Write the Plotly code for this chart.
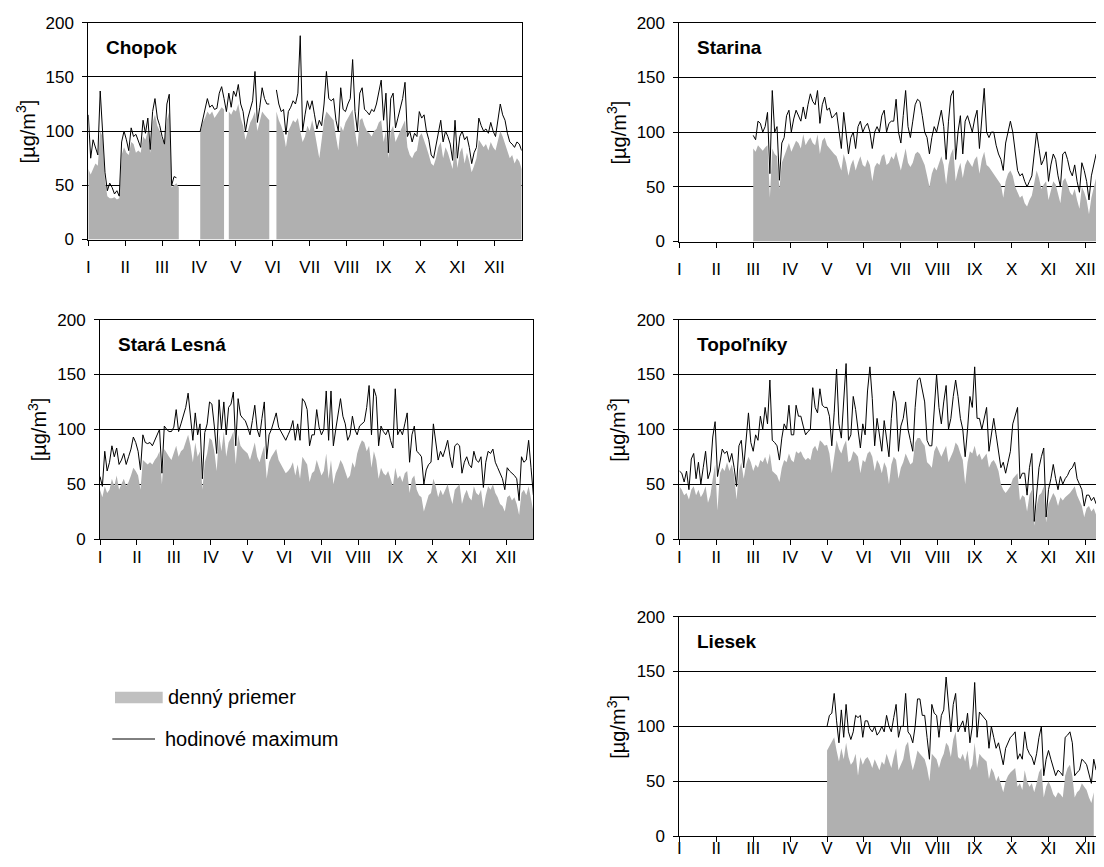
import plotly.graph_objects as go

N = None
DAYS = list(range(0, 365, 2))
MONTH_TICKS = [0, 31, 62, 93, 124, 155, 186, 217, 248, 279, 310, 341]
MONTH_LABELS = ["I", "II", "III", "IV", "V", "VI", "VII", "VIII", "IX", "X", "XI", "XII"]
Y_TICKS = [0, 50, 100, 150, 200]
STATIONS = ["Chopok", "Starina", "Stará Lesná", "Topoľníky", "Liesek"]
LEGEND_LABELS = ["denný priemer", "hodinové maximum"]
Y_TITLE = "[µg/m<sup>3</sup>]"

# Chopok
CH_AVG = [65, 60, 65, 70, 68, 100, 95, 55, 40, 38,
          38, 39, 37, 38, 78, 85, 80, 78, 90, 88,
          80, 82, 80, 95, 92, 100, 80, 108, 115, 105,
          100, 92, 90, 110, 118, 48, 50, 52, 48, N,
          N, N, N, N, N, N, N, 98, 108, 112,
          118, 115, 118, 112, 115, 118, 122, 120, N, 118,
          115, 120, 118, 125, 112, 105, 92, 100, 108, 112,
          118, 100, 110, 118, 115, 112, 110, N, N, 118,
          110, 105, 98, 85, 100, 105, 110, 108, 112, 100,
          90, 95, 105, 100, 110, 100, 88, 75, 92, 110,
          118, 115, 112, 110, 95, 82, 105, 100, 108, 112,
          115, 120, 100, 85, 110, 112, 105, 100, 98, 95,
          100, 102, 108, 110, 90, 100, 75, 100, 105, 90,
          95, 100, 105, 110, 85, 78, 75, 80, 82, 95,
          98, 92, 85, 78, 70, 68, 75, 85, 90, 75,
          85, 80, 72, 65, 90, 66, 80, 85, 70, 80,
          72, 62, 68, 75, 92, 88, 85, 88, 82, 90,
          85, 82, 92, 100, 95, 88, 80, 75, 78, 70,
          75, 72, 65]
CH_MAX = [115, 75, 92, 85, 78, 137, 100, 62, 45, 52,
          48, 42, 45, 40, 90, 100, 92, 82, 103, 95,
          97, 90, 85, 110, 98, 112, 83, 118, 130, 112,
          105, 95, 88, 125, 134, 50, 58, 57, N, N,
          N, N, N, N, N, N, N, 100, 110, 122,
          130, 122, 124, 120, 121, 135, 141, 130, 118, 135,
          122, 137, 132, 143, 125, 118, 100, 112, 120, 128,
          155, 108, 122, 140, 130, 125, 125, N, N, 138,
          125, 118, 120, 97, 118, 122, 128, 125, 135, 188,
          100, 115, 128, 120, 128, 115, 102, 110, 105, 125,
          155, 130, 128, 130, 110, 100, 140, 120, 118, 125,
          130, 166, 118, 100, 135, 140, 120, 118, 115, 120,
          118, 125, 135, 147, 110, 135, 80, 130, 135, 103,
          112, 120, 130, 145, 95, 100, 90, 98, 95, 118,
          112, 115, 100, 92, 78, 75, 87, 100, 110, 90,
          100, 95, 88, 73, 110, 75, 95, 100, 92, 95,
          85, 70, 80, 85, 112, 105, 100, 102, 98, 108,
          100, 95, 110, 125, 115, 110, 98, 90, 88, 85,
          90, 88, 82]

# Starina
ST_AVG = [N, N, N, N, N, N, N, N, N, N,
          N, N, N, N, N, N, N, N, N, N,
          N, N, N, N, N, N, N, N, N, N,
          N, 85, 82, 88, 85, 83, 86, 88, 40, 85,
          80, 78, 48, 72, 78, 85, 90, 82, 88, 92,
          90, 85, 98, 88, 92, 95, 90, 88, 98, 80,
          92, 95, 88, 85, 82, 80, 78, 72, 65, 80,
          72, 60, 70, 75, 65, 72, 78, 70, 68, 75,
          70, 55, 68, 72, 70, 78, 80, 70, 72, 78,
          75, 82, 72, 65, 75, 85, 72, 68, 72, 80,
          82, 80, 75, 70, 60, 50, 62, 68, 65, 72,
          78, 70, 52, 70, 80, 85, 55, 65, 72, 58,
          70, 75, 72, 68, 75, 78, 62, 75, 82, 70,
          68, 65, 62, 58, 55, 52, 40, 55, 62, 65,
          60, 50, 45, 40, 42, 35, 32, 38, 42, 55,
          65, 58, 48, 52, 55, 38, 48, 55, 52, 42,
          35, 55, 58, 52, 45, 42, 48, 38, 30, 50,
          45, 38, 25, 40, 50, 58, 55, 42, 45, 50,
          45, 40, 42]
ST_MAX = [N, N, N, N, N, N, N, N, N, N,
          N, N, N, N, N, N, N, N, N, N,
          N, N, N, N, N, N, N, N, N, N,
          N, 97, 93, 110, 108, 100, 105, 118, 62, 138,
          100, 105, 56, 90, 95, 115, 120, 100, 112, 120,
          115, 110, 123, 112, 125, 135, 128, 125, 138, 108,
          125, 132, 120, 122, 113, 115, 118, 100, 85, 118,
          100, 80, 95, 100, 85, 105, 110, 100, 105, 108,
          100, 85, 100, 105, 100, 115, 120, 100, 108, 110,
          110, 130, 100, 90, 115, 138, 105, 95, 110, 125,
          130, 128, 115, 100, 95, 80, 95, 105, 100, 110,
          120, 105, 75, 110, 133, 138, 75, 100, 115, 80,
          110, 115, 108, 100, 112, 120, 85, 115, 140, 100,
          95, 100, 100, 88, 80, 75, 65, 90, 100, 110,
          100, 80, 65, 60, 62, 55, 50, 55, 60, 80,
          100, 85, 70, 75, 82, 55, 70, 80, 75, 60,
          50, 80, 82, 75, 65, 60, 70, 55, 45, 72,
          65, 55, 38, 60, 70, 80, 80, 60, 65, 70,
          62, 58, 60]

# Stara Lesna
SL_AVG = [45, 38, 48, 42, 45, 55, 48, 58, 45, 50,
          55, 48, 52, 58, 65, 62, 58, 45, 72, 70,
          68, 70, 68, 72, 75, 80, 50, 82, 78, 75,
          72, 78, 85, 75, 80, 82, 88, 95, 85, 70,
          88, 75, 80, 45, 70, 78, 92, 90, 80, 62,
          95, 80, 98, 75, 88, 92, 98, 68, 95, 85,
          82, 80, 78, 72, 80, 88, 75, 70, 78, 85,
          55, 70, 75, 78, 82, 72, 68, 65, 60, 62,
          65, 70, 58, 68, 55, 75, 72, 68, 52, 60,
          62, 72, 65, 58, 62, 78, 55, 72, 50, 60,
          65, 72, 68, 62, 55, 58, 70, 65, 78, 85,
          90, 88, 80, 85, 65, 80, 72, 55, 65, 60,
          58, 62, 55, 48, 65, 55, 58, 52, 60, 62,
          42, 55, 58, 45, 40, 38, 25, 32, 40, 42,
          55, 48, 38, 45, 40, 45, 50, 40, 32, 45,
          48, 50, 32, 40, 45, 38, 35, 48, 42, 40,
          45, 28, 40, 48, 45, 50, 42, 38, 32, 30,
          25, 38, 40, 35, 38, 32, 22, 42, 45, 40,
          48, 35, 25]
SL_MAX = [57, 48, 80, 62, 70, 85, 75, 83, 68, 72,
          78, 68, 75, 82, 93, 88, 80, 63, 95, 88,
          87, 88, 85, 90, 95, 100, 60, 103, 100, 98,
          98, 102, 118, 98, 105, 112, 120, 133, 110, 90,
          115, 95, 105, 55, 97, 105, 125, 123, 103, 78,
          127, 100, 125, 95, 120, 123, 134, 85, 128, 113,
          110, 108, 102, 95, 108, 122, 100, 93, 110, 125,
          73, 95, 100, 108, 115, 102, 98, 95, 90, 95,
          100, 108, 90, 105, 90, 128, 125, 118, 85, 95,
          95, 118, 102, 95, 100, 135, 90, 135, 85, 100,
          115, 128, 112, 105, 90, 95, 112, 100, 95, 103,
          105, 107, 120, 140, 95, 137, 130, 85, 103, 98,
          95, 100, 90, 83, 137, 95, 100, 95, 105, 115,
          70, 95, 103, 80, 78, 75, 50, 63, 68, 70,
          105, 90, 72, 80, 75, 82, 90, 75, 65, 85,
          87, 85, 60, 70, 75, 68, 65, 80, 72, 70,
          75, 47, 70, 80, 78, 82, 70, 65, 60, 55,
          45, 65, 62, 60, 58, 55, 35, 75, 70, 72,
          90, 65, 40]

# Topolniky
TO_AVG = [48, 45, 40, 42, 36, 45, 48, 40, 45, 38,
          42, 48, 33, 40, 55, 68, 26, 60, 65, 62,
          70, 62, 68, 58, 36, 62, 70, 55, 68, 75,
          70, 62, 68, 65, 72, 70, 75, 68, 78, 62,
          60, 58, 52, 65, 72, 70, 78, 72, 70, 80,
          78, 80, 75, 72, 74, 72, 82, 85, 80, 90,
          88, 85, 86, 78, 60, 75, 90, 82, 78, 85,
          90, 70, 72, 80, 78, 75, 60, 72, 70, 78,
          80, 75, 62, 72, 68, 60, 70, 65, 50, 68,
          75, 72, 55, 65, 70, 78, 72, 68, 70, 88,
          92, 92, 88, 85, 70, 68, 65, 80, 85, 80,
          75, 80, 85, 70, 75, 80, 88, 85, 78, 72,
          50, 70, 80, 78, 85, 75, 78, 72, 75, 78,
          65, 70, 72, 68, 62, 50, 45, 42, 45, 48,
          55, 58, 60, 35, 40, 38, 25, 40, 45, 12,
          30, 40, 42, 48, 15, 32, 38, 42, 38, 30,
          38, 35, 38, 40, 42, 45, 48, 40, 35, 30,
          20, 28, 30, 25, 28, 22, 20, 18, 35, 32,
          30, 25, 22]
TO_MAX = [62, 60, 52, 62, 45, 73, 78, 55, 70, 50,
          65, 80, 55, 62, 93, 107, 57, 70, 82, 78,
          80, 70, 78, 65, 48, 85, 90, 65, 93, 115,
          88, 80, 95, 90, 112, 100, 120, 105, 145, 90,
          88, 85, 72, 92, 105, 100, 122, 95, 95, 122,
          112, 112, 103, 95, 98, 100, 138, 120, 115, 137,
          122, 120, 120, 112, 85, 115, 155, 105, 92, 124,
          160, 90, 95, 130, 118, 100, 83, 105, 95, 135,
          157, 128, 85, 110, 95, 80, 108, 90, 75, 110,
          135, 125, 80, 103, 110, 125, 100, 90, 80, 120,
          145, 147, 135, 125, 90, 85, 85, 120, 150, 120,
          105, 125, 140, 100, 110, 130, 145, 130, 110, 100,
          75, 100, 130, 120, 157, 110, 110, 100, 110, 120,
          80, 95, 110, 95, 80, 65, 70, 60, 70, 80,
          105, 112, 120, 55, 60, 60, 40, 65, 78, 16,
          45, 65, 75, 83, 20, 45, 55, 68, 55, 45,
          57, 50, 55, 58, 63, 65, 70, 55, 50, 45,
          30, 40, 40, 35, 38, 32, 30, 25, 65, 55,
          50, 40, 38]

# Liesek
LI_AVG = [N, N, N, N, N, N, N, N, N, N,
          N, N, N, N, N, N, N, N, N, N,
          N, N, N, N, N, N, N, N, N, N,
          N, N, N, N, N, N, N, N, N, N,
          N, N, N, N, N, N, N, N, N, N,
          N, N, N, N, N, N, N, N, N, N,
          N, N, 78, 82, 85, 90, 78, 68, 80, 70,
          85, 72, 65, 68, 75, 55, 72, 65, 70, 72,
          68, 62, 70, 65, 60, 68, 65, 75, 68, 62,
          72, 80, 60, 65, 70, 82, 86, 70, 60, 68,
          78, 75, 72, 70, 62, 50, 75, 72, 70, 62,
          70, 75, 85, 82, 72, 88, 95, 72, 70, 75,
          68, 78, 60, 65, 85, 62, 75, 72, 70, 68,
          52, 62, 58, 50, 55, 48, 40, 50, 55, 58,
          60, 62, 45, 48, 42, 60, 50, 45, 48, 40,
          48, 58, 62, 35, 45, 50, 45, 38, 35, 40,
          38, 35, 55, 62, 65, 55, 35, 40, 42, 48,
          45, 42, 35, 30, 40, N, N, N, N, N,
          N, N, N]
LI_MAX = [N, N, N, N, N, N, N, N, N, N,
          N, N, N, N, N, N, N, N, N, N,
          N, N, N, N, N, N, N, N, N, N,
          N, N, N, N, N, N, N, N, N, N,
          N, N, N, N, N, N, N, N, N, N,
          N, N, N, N, N, N, N, N, N, N,
          N, N, 100, 110, 112, 130, 105, 85, 115, 90,
          120, 95, 88, 95, 110, 108, 110, 90, 105, 105,
          98, 95, 100, 92, 95, 100, 95, 110, 100, 95,
          108, 120, 90, 100, 100, 130, 95, 92, 85, 100,
          125, 125, 110, 110, 90, 70, 120, 112, 110, 90,
          110, 115, 145, 120, 95, 120, 130, 95, 100, 105,
          95, 112, 85, 100, 140, 90, 113, 110, 108, 105,
          80, 100, 90, 80, 85, 75, 65, 80, 85, 90,
          92, 95, 70, 75, 70, 95, 80, 75, 72, 65,
          75, 90, 100, 55, 70, 78, 70, 62, 55, 60,
          58, 55, 90, 92, 95, 85, 55, 58, 60, 70,
          68, 65, 55, 48, 70, 60, N, N, N, N,
          N, N, N]

SERIES = [(CH_AVG, CH_MAX), (ST_AVG, ST_MAX), (SL_AVG, SL_MAX),
          (TO_AVG, TO_MAX), (LI_AVG, LI_MAX)]
for a, m in SERIES:
    assert len(a) == len(DAYS) and len(m) == len(DAYS), (len(a), len(m))


def runs(xs, ys):
    """Split a series at missing values into contiguous runs."""
    out, cx, cy = [], [], []
    for x, y in zip(xs, ys):
        if y is None:
            if cx:
                out.append((cx, cy))
            cx, cy = [], []
        else:
            cx.append(x)
            cy.append(y)
    if cx:
        out.append((cx, cy))
    return out


OFF = 8                      # page body margin
W, H = 1104 - 2 * OFF, 867 - 2 * OFF
FONT = "Liberation Sans, Arial, sans-serif"
GRAY = "#b0b0b0"
# panel boxes in page pixels: left, right, top, bottom, x-label standoff
BOXES = [
    (88.3, 521.7, 22.7, 239.5, 7),
    (679.4, 1112.8, 22.7, 241.5, 7),
    (100.0, 533.4, 319.7, 539.0, -2),
    (679.4, 1112.8, 319.7, 539.0, -2),
    (679.4, 1112.8, 616.7, 836.0, -8),
]


def px(v):
    return v / W


def py(v):
    return (H - v) / H


fig = go.Figure()
annotations = []
layout = {}
for i, ((avg, mx), name, (l, r, t, b, xs)) in enumerate(zip(SERIES, STATIONS, BOXES)):
    k = "" if i == 0 else str(i + 1)
    l0, r0, t0, b0 = l - OFF, r - OFF, t - OFF, b - OFF
    rr = min(r0, W)
    xend = 364 * (rr - l0) / (r0 - l0)
    for sx, sy in runs(DAYS, avg):
        fig.add_trace(go.Scatter(
            x=sx, y=sy, mode="lines", fill="tozeroy", fillcolor=GRAY,
            line=dict(width=0, color=GRAY), hoverinfo="skip",
            showlegend=False, xaxis="x" + k, yaxis="y" + k))
    fig.add_trace(go.Scatter(
        x=DAYS, y=mx, mode="lines", line=dict(width=1, color="black"),
        connectgaps=False, hoverinfo="skip", showlegend=False,
        xaxis="x" + k, yaxis="y" + k))
    layout["xaxis" + k] = dict(
        domain=[px(l0), px(rr)], range=[0, xend], anchor="y" + k,
        tickmode="array", tickvals=MONTH_TICKS, ticktext=MONTH_LABELS,
        ticks="outside", ticklen=5, tickcolor="black", tickwidth=1,
        showline=True, linecolor="black", linewidth=1, mirror=True,
        showgrid=False, zeroline=False, ticklabelstandoff=xs, automargin=False,
        tickfont=dict(size=17, color="black", family=FONT), fixedrange=True)
    layout["yaxis" + k] = dict(
        domain=[py(b0), py(t0)], range=[0, 200], anchor="x" + k,
        tickmode="array", tickvals=Y_TICKS,
        ticks="outside", ticklen=5, tickcolor="black", tickwidth=1,
        showline=True, linecolor="black", linewidth=1, mirror=(r0 <= W),
        showgrid=True, gridcolor="black", gridwidth=1, zeroline=False,
        ticklabelstandoff=5, automargin=False,
        tickfont=dict(size=17, color="black", family=FONT), fixedrange=True)
    annotations.append(dict(
        text="<b>" + name + "</b>", xref="paper", yref="paper",
        x=px(l0 + 15.5), y=py(t0 + 25), xanchor="left", yanchor="middle",
        showarrow=False, font=dict(size=19, color="black", family=FONT)))
    annotations.append(dict(
        text=Y_TITLE, xref="paper", yref="paper", textangle=-90,
        x=px(l0 - 63), y=py((t0 + b0) / 2), xanchor="center", yanchor="middle",
        showarrow=False, font=dict(size=20, color="black", family=FONT)))

annotations.append(dict(
    text=LEGEND_LABELS[0], xref="paper", yref="paper", x=px(166 - OFF), y=py(697 - OFF),
    xanchor="left", yanchor="middle", showarrow=False,
    font=dict(size=20, color="black", family=FONT)))
annotations.append(dict(
    text=LEGEND_LABELS[1], xref="paper", yref="paper", x=px(163 - OFF), y=py(739 - OFF),
    xanchor="left", yanchor="middle", showarrow=False,
    font=dict(size=20, color="black", family=FONT)))
shapes = [
    dict(type="rect", xref="paper", yref="paper", x0=px(115 - OFF), x1=px(162.7 - OFF),
         y0=py(703.3 - OFF), y1=py(691.7 - OFF), fillcolor="#c0c0c0",
         line=dict(width=0)),
    dict(type="line", xref="paper", yref="paper", x0=px(112.3 - OFF), x1=px(155 - OFF),
         y0=py(739 - OFF), y1=py(739 - OFF), line=dict(width=1, color="black")),
]

fig.update_layout(
    width=W, height=H, autosize=False,
    margin=dict(l=0, r=0, t=0, b=0, pad=0),
    paper_bgcolor="white", plot_bgcolor="white",
    font=dict(family=FONT, color="black", size=17),
    annotations=annotations, shapes=shapes, showlegend=False,
    **layout)

fig.write_html("out.html")
